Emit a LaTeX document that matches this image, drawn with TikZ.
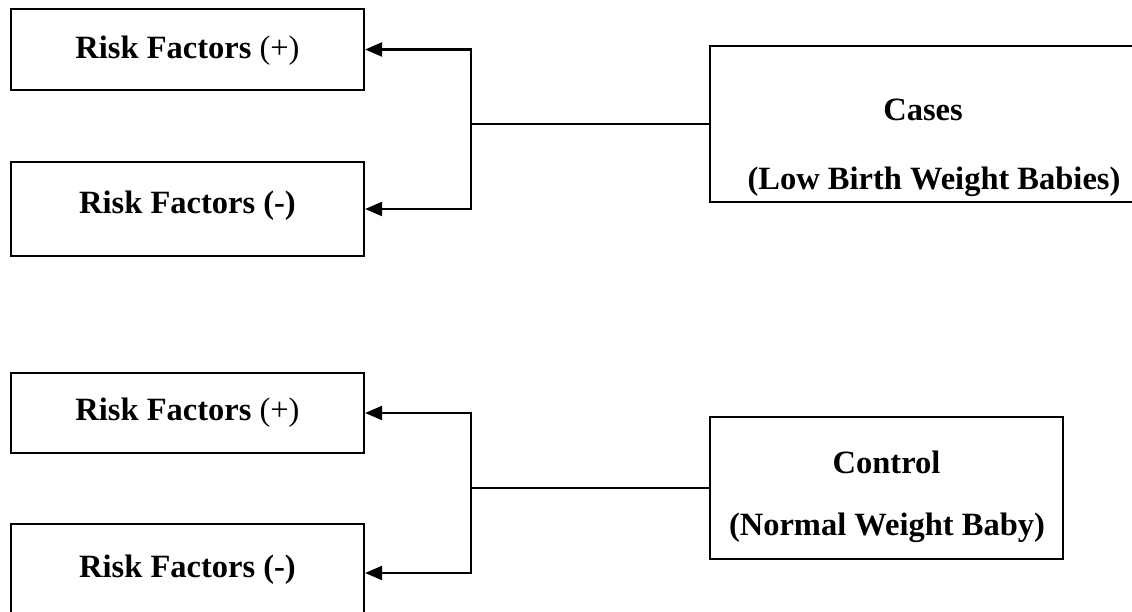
\documentclass[tikz,border=0pt]{standalone}
\usepackage{fontspec}
\setmainfont{Liberation Serif}
\usetikzlibrary{arrows.meta}
\begin{document}
\begin{tikzpicture}[x=1pt,y=-1pt,
  box/.style={draw=black,line width=2.2pt,rectangle,inner sep=0pt,minimum width=353pt},
  lbl/.style={font=\fontsize{32.5}{38}\selectfont\bfseries,inner sep=0pt},
  arr/.style={line width=2.2pt,-{Triangle[length=17pt,width=14pt]}},
  ln/.style={line width=2.2pt}]
\useasboundingbox (0,0) rectangle (1132,612);
\clip (0,0) rectangle (1132,612);
% top group
\node[box,minimum height=81pt] (r1) at (187.5,49.5) {};
\node[lbl] (r1t) at (187.5,51) {Risk Factors \mdseries(+)};
\node[box,minimum height=94pt] (r2) at (187.5,209) {};
\node[lbl] (r2t) at (187.5,206) {Risk Factors (-)};
\node[box,minimum width=448pt,minimum height=156pt] (cases) at (934,124) {};
\node[lbl] (cases1) at (923,110) {Cases};
\node[lbl] (cases2) at (934,182) {(Low Birth Weight Babies)};
\coordinate (j1) at (471,124);
\draw[ln] (cases.west) -- (j1);
\draw[arr] (j1) |- (r1.east);
\draw[arr] (j1) |- (r2.east);
% bottom group
\node[box,minimum height=80pt] (r3) at (187.5,413) {};
\node[lbl] (r3t) at (187.5,413) {Risk Factors \mdseries(+)};
\node[box,minimum height=98pt] (r4) at (187.5,573) {};
\node[lbl] (r4t) at (187.5,570) {Risk Factors (-)};
\node[box,minimum height=142pt] (ctrl) at (886.5,488) {};
\node[lbl] (ctrl1) at (886.5,462.5) {Control};
\node[lbl] (ctrl2) at (887,528) {(Normal Weight Baby)};
\coordinate (j2) at (471,488);
\draw[ln] (ctrl.west) -- (j2);
\draw[arr] (j2) |- (r3.east);
\draw[arr] (j2) |- (r4.east);
\end{tikzpicture}
\end{document}
